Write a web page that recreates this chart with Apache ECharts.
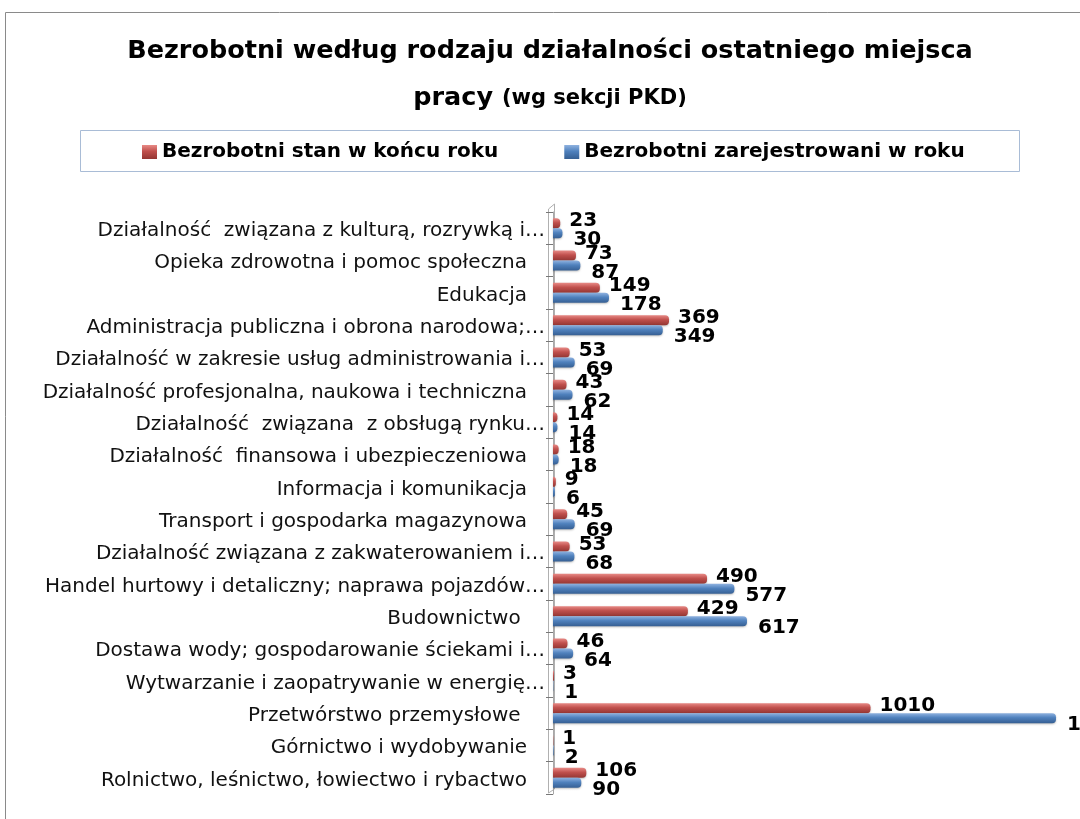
<!DOCTYPE html>
<html>
<head>
<meta charset="utf-8">
<script src="https://cdn.jsdelivr.net/npm/echarts@6/dist/echarts.min.js"></script>
<style>
html,body{margin:0;padding:0;background:#fff;overflow:hidden;width:1080px;height:819px;}
#c{width:1100px;height:819px;}
</style>
</head>
<body>
<div id="c"></div>
<script>
// categories bottom -> top
var categories = [
  'Rolnictwo, leśnictwo, łowiectwo i rybactwo',
  'Górnictwo i wydobywanie',
  'Przetwórstwo przemysłowe ',
  'Wytwarzanie i zaopatrywanie w energię…',
  'Dostawa wody; gospodarowanie ściekami i…',
  'Budownictwo ',
  'Handel hurtowy i detaliczny; naprawa pojazdów…',
  'Działalność związana z zakwaterowaniem i…',
  'Transport i gospodarka magazynowa',
  'Informacja i komunikacja',
  'Działalność  finansowa i ubezpieczeniowa',
  'Działalność  związana  z obsługą rynku…',
  'Działalność profesjonalna, naukowa i techniczna',
  'Działalność w zakresie usług administrowania i…',
  'Administracja publiczna i obrona narodowa;…',
  'Edukacja',
  'Opieka zdrowotna i pomoc społeczna',
  'Działalność  związana z kulturą, rozrywką i…'
];
var stanKoniecRoku = [106, 1, 1010, 3, 46, 429, 490, 53, 45, 9, 18, 14, 43, 53, 369, 149, 73, 23];
var zarejestrowani = [90, 2, 1600, 1, 64, 617, 577, 68, 69, 6, 18, 14, 62, 69, 349, 178, 87, 30];
var seriesNames = ['Bezrobotni stan w końcu roku', 'Bezrobotni zarejestrowani w roku'];

var chart = echarts.init(document.getElementById('c'), null, {renderer: 'canvas'});
var FONT = 'DejaVu Sans';

function grad(c1, c2, c3) {
  return new echarts.graphic.LinearGradient(0, 0, 0, 1, [
    {offset: 0, color: c1}, {offset: 0.45, color: c2}, {offset: 1, color: c3}
  ]);
}

var option = {
  backgroundColor: '#fff',
  animation: false,
  title: {
    left: 'center',
    top: 23,
    text: 'Bezrobotni według rodzaju działalności ostatniego miejsca\n{a|pracy} {b|(wg sekcji PKD)}',
    textStyle: {
      fontFamily: FONT, fontSize: 25.5, fontWeight: 'bold', color: '#000', lineHeight: 47,
      rich: {
        a: {fontFamily: FONT, fontSize: 25.5, fontWeight: 'bold', color: '#000', lineHeight: 47},
        b: {fontFamily: FONT, fontSize: 21, fontWeight: 'bold', color: '#000', lineHeight: 47}
      }
    }
  },
  legend: {
    data: seriesNames,
    left: 137,
    top: 137,
    icon: 'rect',
    itemWidth: 15,
    itemHeight: 14,
    itemGap: 66,
    textStyle: {fontFamily: FONT, fontSize: 20, fontWeight: 'bold', color: '#000'}
  },
  graphic: [
    {type: 'rect', shape: {x: 5.5, y: 12.5, width: 1200, height: 900}, style: {fill: null, stroke: '#8a8a8a', lineWidth: 1}, silent: true, z: -10},
    {type: 'rect', shape: {x: 80.5, y: 130.5, width: 939, height: 41}, style: {fill: null, stroke: '#a9bcd6', lineWidth: 1}, silent: true, z: -5},
    {type: 'polyline', shape: {points: [[548.5, 793], [548.5, 209], [554.5, 204], [554.5, 789], [548.5, 793]]}, style: {fill: null, stroke: '#b0b0b0', lineWidth: 1}, silent: true, z: -1}
  ],
  grid: {left: 553, right: 0, top: 212, bottom: 25, containLabel: false},
  xAxis: {
    type: 'value', min: 0, max: 1740, show: false,
    splitLine: {show: false}
  },
  yAxis: {
    type: 'category',
    data: categories,
    axisLine: {show: true, lineStyle: {color: '#a8a8a8', width: 1}},
    axisTick: {show: true, interval: 0, length: 7, lineStyle: {color: '#777'}},
    axisLabel: {
      interval: 0, margin: 8, fontFamily: FONT, fontSize: 20, color: '#111',
      padding: [5, 0, 0, 0],
      formatter: function (v) {
        return v.charAt(v.length - 1) === '…' ? v : '{p|' + v + '}';
      },
      rich: {p: {fontFamily: FONT, fontSize: 20, color: '#111', padding: [0, 18, 0, 0]}}
    }
  },
  series: [
    {
      name: seriesNames[0], type: 'bar', data: stanKoniecRoku,
      barWidth: 10, barGap: '0%',
      itemStyle: {color: grad('#e88a86', '#c0504d', '#943633'), borderRadius: [0, 4, 4, 0], shadowColor: 'rgba(0,0,0,0.25)', shadowBlur: 2, shadowOffsetY: 1},
      label: {show: true, position: 'right', distance: 9, offset: [0, -2], fontFamily: FONT, fontSize: 20, fontWeight: 'bold', color: '#000'}
    },
    {
      name: seriesNames[1], type: 'bar', data: zarejestrowani,
      barWidth: 10, barGap: '0%',
      itemStyle: {color: grad('#8fb2e0', '#4f81bd', '#365f93'), borderRadius: [0, 4, 4, 0], shadowColor: 'rgba(0,0,0,0.25)', shadowBlur: 2, shadowOffsetY: 1},
      label: {show: true, position: 'right', distance: 11, offset: [0, 7], fontFamily: FONT, fontSize: 20, fontWeight: 'bold', color: '#000'}
    }
  ],
  color: ['#c0504d', '#4f81bd']
};
chart.setOption(option);
</script>
</body>
</html>
